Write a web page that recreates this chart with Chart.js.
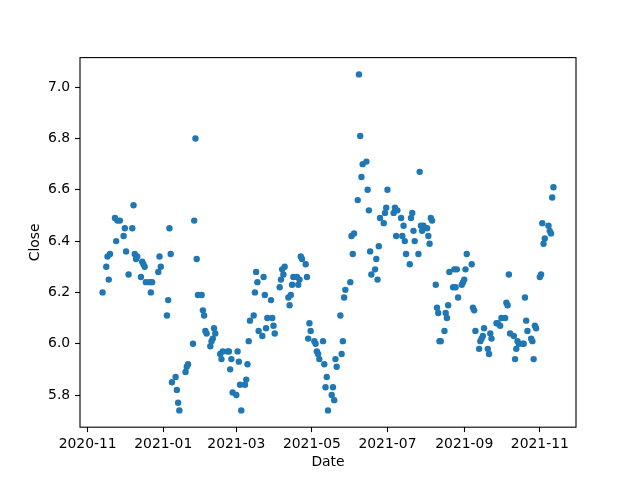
<!DOCTYPE html>
<html>
<head>
<meta charset="utf-8">
<script src="https://cdn.jsdelivr.net/npm/chart.js@4.4.0/dist/chart.umd.min.js"></script>
<style>
  html, body { margin: 0; padding: 0; background: #fff; }
</style>
</head>
<body>
<canvas id="closeChart" width="640" height="480"></canvas>
<script>
// dati: data di chiusura e prezzo
const dates = [
  '2020-11-13','2020-11-16','2020-11-17','2020-11-18','2020-11-19','2020-11-23','2020-11-24','2020-11-25','2020-11-27','2020-11-30',
  '2020-12-01','2020-12-02','2020-12-04','2020-12-07','2020-12-08','2020-12-09','2020-12-10','2020-12-11','2020-12-14','2020-12-15',
  '2020-12-16','2020-12-17','2020-12-18','2020-12-21','2020-12-22','2020-12-23','2020-12-28','2020-12-29','2020-12-30','2021-01-04',
  '2021-01-05','2021-01-06','2021-01-07','2021-01-08','2021-01-11','2021-01-12','2021-01-13','2021-01-14','2021-01-19','2021-01-20',
  '2021-01-21','2021-01-25','2021-01-26','2021-01-27','2021-01-28','2021-01-29','2021-02-01','2021-02-02','2021-02-03','2021-02-04',
  '2021-02-05','2021-02-08','2021-02-09','2021-02-10','2021-02-11','2021-02-12','2021-02-16','2021-02-17','2021-02-18','2021-02-22',
  '2021-02-23','2021-02-24','2021-02-25','2021-02-26','2021-03-01','2021-03-02','2021-03-03','2021-03-04','2021-03-05','2021-03-08',
  '2021-03-09','2021-03-10','2021-03-11','2021-03-12','2021-03-15','2021-03-16','2021-03-17','2021-03-18','2021-03-19','2021-03-22',
  '2021-03-23','2021-03-24','2021-03-25','2021-03-26','2021-03-29','2021-03-30','2021-03-31','2021-04-01','2021-04-05','2021-04-06',
  '2021-04-07','2021-04-08','2021-04-09','2021-04-12','2021-04-13','2021-04-14','2021-04-15','2021-04-16','2021-04-19','2021-04-20',
  '2021-04-21','2021-04-22','2021-04-23','2021-04-26','2021-04-27','2021-04-28','2021-04-29','2021-04-30','2021-05-03','2021-05-04',
  '2021-05-05','2021-05-06','2021-05-07','2021-05-10','2021-05-11','2021-05-12','2021-05-13','2021-05-14','2021-05-17','2021-05-18',
  '2021-05-19','2021-05-20','2021-05-21','2021-05-24','2021-05-25','2021-05-26','2021-05-27','2021-05-28','2021-06-01','2021-06-02',
  '2021-06-03','2021-06-04','2021-06-07','2021-06-08','2021-06-09','2021-06-10','2021-06-11','2021-06-14','2021-06-15','2021-06-16',
  '2021-06-17','2021-06-18','2021-06-21','2021-06-22','2021-06-23','2021-06-24','2021-06-25','2021-06-28','2021-06-29','2021-06-30',
  '2021-07-01','2021-07-06','2021-07-07','2021-07-08','2021-07-09','2021-07-12','2021-07-13','2021-07-14','2021-07-15','2021-07-16',
  '2021-07-19','2021-07-20','2021-07-21','2021-07-22','2021-07-23','2021-07-26','2021-07-27','2021-07-28','2021-07-29','2021-07-30',
  '2021-08-02','2021-08-03','2021-08-04','2021-08-05','2021-08-06','2021-08-09','2021-08-10','2021-08-11','2021-08-12','2021-08-13',
  '2021-08-16','2021-08-17','2021-08-18','2021-08-19','2021-08-20','2021-08-23','2021-08-24','2021-08-25','2021-08-26','2021-08-27',
  '2021-08-30','2021-08-31','2021-09-01','2021-09-02','2021-09-03','2021-09-07','2021-09-08','2021-09-09','2021-09-10','2021-09-13',
  '2021-09-14','2021-09-15','2021-09-16','2021-09-17','2021-09-20','2021-09-21','2021-09-22','2021-09-23','2021-09-27','2021-09-28',
  '2021-09-30','2021-10-01','2021-10-04','2021-10-05','2021-10-06','2021-10-07','2021-10-08','2021-10-11','2021-10-12','2021-10-13',
  '2021-10-14','2021-10-15','2021-10-18','2021-10-19','2021-10-20','2021-10-21','2021-10-22','2021-10-25','2021-10-26','2021-10-27',
  '2021-10-28','2021-10-29','2021-11-01','2021-11-02','2021-11-03','2021-11-04','2021-11-05','2021-11-08','2021-11-09','2021-11-10',
  '2021-11-11','2021-11-12'
];

const closePrices = [
  6.20, 6.30, 6.34, 6.25, 6.35, 6.49, 6.40, 6.48, 6.48, 6.42,
  6.45, 6.36, 6.27, 6.45, 6.54, 6.35, 6.33, 6.34, 6.26, 6.32,
  6.31, 6.30, 6.24, 6.24, 6.20, 6.24, 6.28, 6.34, 6.30, 6.11,
  6.17, 6.45, 6.35, 5.85, 5.87, 5.82, 5.77, 5.74, 5.89, 5.91,
  5.92, 6.00, 6.48, 6.80, 6.33, 6.19, 6.19, 6.13, 6.11, 6.05,
  6.04, 5.99, 6.01, 6.02, 6.06, 6.04, 5.96, 5.94, 5.97, 5.97,
  5.97, 5.90, 5.94, 5.81, 5.80, 5.97, 5.93, 5.84, 5.74, 5.84,
  5.86, 5.92, 6.01, 6.09, 6.11, 6.20, 6.28, 6.24, 6.05, 6.03,
  6.26, 6.19, 6.06, 6.10, 6.17, 6.10, 6.07, 6.04, 6.22, 6.25,
  6.29, 6.27, 6.30, 6.18, 6.15, 6.19, 6.23, 6.26, 6.26, 6.23,
  6.25, 6.34, 6.33, 6.31, 6.26, 6.02, 6.08, 6.05, 6.01, 6.00,
  5.97, 5.96, 5.94, 6.01, 5.92, 5.83, 5.87, 5.74, 5.80, 5.83,
  5.78, 5.94, 5.91, 6.11, 5.96, 6.01, 6.18, 6.21, 6.24, 6.42,
  6.35, 6.43, 6.56, 7.05, 6.81, 6.65, 6.70, 6.71, 6.60, 6.52,
  6.36, 6.27, 6.29, 6.33, 6.25, 6.38, 6.49, 6.47, 6.51, 6.53,
  6.60, 6.51, 6.53, 6.42, 6.52, 6.49, 6.42, 6.46, 6.40, 6.35,
  6.31, 6.49, 6.51, 6.44, 6.40, 6.35, 6.67, 6.46, 6.44, 6.46,
  6.45, 6.42, 6.39, 6.49, 6.48, 6.23, 6.14, 6.12, 6.01, 6.01,
  6.05, 6.12, 6.10, 6.15, 6.28, 6.22, 6.29, 6.22, 6.29, 6.18,
  6.23, 6.24, 6.25, 6.29, 6.35, 6.31, 6.14, 6.13, 6.05, 5.98,
  6.01, 6.02, 6.03, 6.06, 5.98, 5.96, 6.04, 6.02, 6.08, 6.08,
  6.07, 6.10, 6.10, 6.16, 6.15, 6.27, 6.04, 6.03, 5.94, 5.98,
  6.01, 6.00, 6.00, 6.00, 6.18, 6.09, 6.05, 6.02, 6.01, 5.94,
  6.07, 6.06, 6.26, 6.27, 6.47, 6.39, 6.41, 6.46, 6.44, 6.43,
  6.57, 6.61
];

// etichette degli assi
const xTickLabels = ['2020-11', '2021-01', '2021-03', '2021-05', '2021-07', '2021-09', '2021-11'];
const yTickLabels = ['5.8', '6.0', '6.2', '6.4', '6.6', '6.8', '7.0'];

// date -> millisecondi per la scala lineare (niente adapter per la scala time)
const xValues = dates.map(d => Date.parse(d));
const xTickValues = xTickLabels.map(l => Date.parse(l + '-01'));
const yTickValues = yTickLabels.map(Number);

// margini del 5% come matplotlib
const xMin = Math.min(...xValues), xMax = Math.max(...xValues);
const yMin = Math.min(...closePrices), yMax = Math.max(...closePrices);
const xPad = (xMax - xMin) * 0.05, yPad = (yMax - yMin) * 0.05;

const font = { family: '"DejaVu Sans", sans-serif', size: 13.9 };

// cornice completa attorno all'area del grafico
const frame = {
  id: 'frame',
  afterDatasetsDraw(chart) {
    const { ctx, chartArea: a } = chart;
    ctx.save();
    ctx.strokeStyle = '#000';
    ctx.lineWidth = 1.1;
    ctx.strokeRect(a.left, a.top, a.right - a.left, a.bottom - a.top);
    ctx.restore();
  }
};

const ctx = document.getElementById('closeChart').getContext('2d');

const closeChart = new Chart(ctx, {
  type: 'scatter',
  data: {
    datasets: [{
      label: 'Close',
      data: xValues.map((x, i) => ({ x: x, y: closePrices[i] })),
      backgroundColor: '#1f77b4',
      borderWidth: 0,
      pointRadius: 3.2,
      pointHoverRadius: 3.2
    }]
  },
  options: {
    responsive: false,
    animation: false,
    devicePixelRatio: 1,
    layout: { padding: { left: 0, top: 57.6, right: 64, bottom: 0 } },
    plugins: {
      legend: { display: false },
      tooltip: { enabled: false }
    },
    scales: {
      x: {
        type: 'linear',
        min: xMin - xPad,
        max: xMax + xPad,
        afterBuildTicks: s => { s.ticks = xTickValues.map(v => ({ value: v })); },
        afterFit: s => { s.height = 52.8; },
        border: { display: false },
        grid: { drawOnChartArea: false, drawTicks: true, tickLength: 4.9, tickWidth: 1.1, tickColor: '#000', color: '#000' },
        ticks: {
          autoSkip: false, maxRotation: 0, padding: 3.5, color: '#000', font: font,
          callback: v => xTickLabels[xTickValues.indexOf(v)]
        },
        title: { display: true, text: 'Date', color: '#000', font: font, padding: { top: 0, bottom: 9.2 } }
      },
      y: {
        min: yMin - yPad,
        max: yMax + yPad,
        afterBuildTicks: s => { s.ticks = yTickValues.map(v => ({ value: v })); },
        afterFit: s => { s.width = 80; },
        border: { display: false },
        grid: { drawOnChartArea: false, drawTicks: true, tickLength: 4.9, tickWidth: 1.1, tickColor: '#000', color: '#000' },
        ticks: {
          padding: 4.9, color: '#000', font: font,
          callback: v => yTickLabels[yTickValues.indexOf(v)]
        },
        title: { display: true, text: 'Close', color: '#000', font: font, padding: { top: 26.7, bottom: 0 } }
      }
    }
  },
  plugins: [frame]
});
</script>
</body>
</html>
